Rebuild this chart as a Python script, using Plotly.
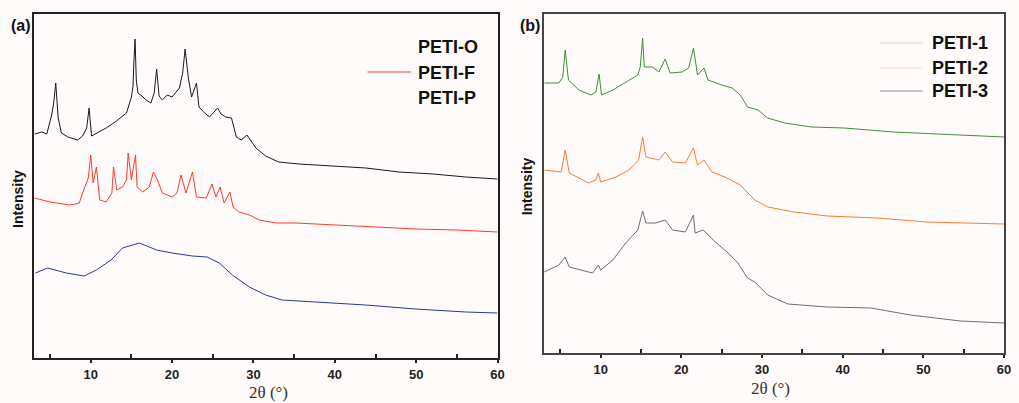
import plotly.graph_objects as go

# ---------------- Panel (a) data (2theta in degrees, intensity a.u.) ----------------
x_O = [3.1, 4.0, 4.6, 5.2, 5.45, 5.7, 6.0, 6.4, 7.2, 8.4, 9.0, 9.5, 9.8, 10.1, 11.0, 11.9, 13.0, 14.4, 15.0, 15.2, 15.3,
       15.45, 15.6, 15.8, 16.3, 16.8, 17.4, 17.8, 18.1, 18.4, 18.8, 19.4, 20.0, 20.9, 21.3, 21.6, 22.0, 22.4,
       23.0, 23.3, 24.0, 24.6, 25.6, 26.0, 26.6, 27.3, 27.9, 28.5, 29.2, 30.3, 31.5, 33.1, 35.6, 39.6, 43.8,
       47.9, 52.1, 56.1, 60.0]
y_O = [224, 226, 224, 243, 255, 275, 240, 225, 221, 218, 222, 230, 250, 222, 226, 230, 236, 245, 261, 272, 295,
       319, 278, 265, 262, 258, 255, 265, 289, 262, 258, 263, 261, 270, 285, 309, 280, 261,
       275, 251, 245, 241, 250, 244, 241, 240, 221, 218, 223, 210, 202, 196, 194, 192, 190,
       186, 184, 181, 179]

x_F = [3.1, 5.0, 7.4, 8.6, 9.0, 9.7, 10.0, 10.3, 10.7, 11.1, 11.9, 12.6, 12.8, 13.2, 13.9,
       14.4, 14.6, 15.0, 15.5, 15.7, 16.4, 17.2, 17.7, 18.2, 18.8, 20.0, 20.6, 21.1, 21.7,
       22.5, 23.0, 24.2, 24.9, 25.4, 25.9, 26.4, 27.1, 27.5, 28.2, 29.5, 30.7, 32.8, 35.2,
       40.0, 45.4, 50.0, 55.0, 60.0]
y_F = [160, 156, 153, 155, 165, 180, 203, 175, 191, 158, 156, 165, 191, 168, 171,
       178, 205, 178, 203, 171, 166, 171, 186, 178, 165, 161, 165, 183, 165,
       186, 161, 160, 174, 161, 171, 155, 166, 151, 146, 143, 138, 135, 135,
       133, 131, 129, 128, 126]

x_P = [3.2, 4.7, 7.0, 9.2, 10.7, 12.5, 13.9, 16.0, 18.1, 20.0, 22.5, 24.3, 25.8, 27.4,
       29.5, 31.5, 33.5, 37.6, 43.8, 49.9, 56.1, 60.0]
y_P = [85, 90, 85, 82, 88, 98, 110, 115, 108, 105, 102, 101, 95, 83,
       71, 63, 58, 56, 53, 49, 46, 45]

# ---------------- Panel (b) data ----------------
x_1 = [3.0, 4.8, 5.3, 5.6, 6.0, 7.3, 8.8, 9.4, 9.8, 10.1, 11.5, 13.5, 14.6, 14.9, 15.2, 15.4,
       16.4, 17.2, 18.0, 18.6, 20.1, 20.9, 21.5, 22.0, 22.8, 23.3, 25.0, 26.3, 27.3, 28.2,
       29.5, 30.7, 32.8, 36.1, 40.2, 46.3, 52.5, 60.0]
y_1 = [270, 270, 276, 303, 273, 263, 258, 261, 279, 258, 263, 273, 278, 286, 315, 286,
       286, 281, 294, 280, 281, 285, 305, 278, 285, 273, 268, 265, 258, 246,
       243, 235, 230, 226, 225, 221, 219, 216]

x_2 = [3.0, 5.1, 5.6, 6.1, 8.5, 9.4, 9.7, 10.0, 11.9, 13.5, 14.7, 15.2, 15.6, 17.2, 18.0,
       18.9, 20.5, 21.5, 22.0, 22.8, 23.8, 25.4, 27.3, 28.2, 29.1, 30.7, 34.0, 38.1, 44.3,
       50.4, 60.0]
y_2 = [183, 181, 203, 180, 170, 173, 180, 171, 176, 183, 193, 216, 196, 193, 201,
       191, 190, 205, 188, 193, 181, 176, 168, 160, 153, 146, 141, 137, 135,
       131, 129]

x_3 = [3.0, 4.8, 5.6, 6.1, 9.0, 9.7, 10.0, 11.5, 13.1, 14.6, 15.2, 15.6, 16.8, 18.0, 18.9,
       20.5, 21.5, 21.7, 22.7, 24.2, 25.8, 27.0, 28.2, 29.1, 30.7, 33.2, 38.1, 43.5, 48.4,
       54.6, 60.0]
y_3 = [81, 88, 96, 86, 80, 88, 83, 93, 110, 123, 142, 130, 130, 133, 123,
       121, 138, 120, 123, 111, 100, 90, 75, 71, 58, 49, 46, 45, 38,
       32, 30]

tick_vals = [10, 20, 30, 40, 50, 60]
tick_text = ["<b>10</b>", "<b>20</b>", "<b>30</b>", "<b>40</b>", "<b>50</b>", "<b>60</b>"]

W, H = 1019, 403
def px(v): return v / W
def py(v): return (H - v) / H

fig = go.Figure()
fig.add_trace(go.Scatter(x=x_O, y=y_O, mode="lines", line=dict(color="#1a1a1a", width=1), xaxis="x", yaxis="y", showlegend=False))
fig.add_trace(go.Scatter(x=x_F, y=y_F, mode="lines", line=dict(color="#ff3b2a", width=1), xaxis="x", yaxis="y", showlegend=False))
fig.add_trace(go.Scatter(x=x_P, y=y_P, mode="lines", line=dict(color="#2a3a8c", width=1), xaxis="x", yaxis="y", showlegend=False))
fig.add_trace(go.Scatter(x=x_1, y=y_1, mode="lines", line=dict(color="#3d8f3a", width=1), xaxis="x2", yaxis="y2", showlegend=False))
fig.add_trace(go.Scatter(x=x_2, y=y_2, mode="lines", line=dict(color="#ff7a30", width=1), xaxis="x2", yaxis="y2", showlegend=False))
fig.add_trace(go.Scatter(x=x_3, y=y_3, mode="lines", line=dict(color="#6e6e6e", width=1), xaxis="x2", yaxis="y2", showlegend=False))

axis_common = dict(range=[3, 60], tickvals=tick_vals, ticktext=tick_text, ticks="outside", ticklen=3,
                   tickwidth=1.5, tickcolor="#222", showline=True, mirror=True, linewidth=2,
                   showgrid=False, zeroline=False,
                   tickfont=dict(family="Arial, Liberation Sans", size=13, color="#222"),
                   minor=dict(tickvals=[5, 15, 25, 35, 45, 55], ticks="inside", ticklen=4, tickcolor="#222", tickwidth=1.5))

fig.update_layout(
    width=W, height=H, margin=dict(l=0, r=0, t=0, b=0),
    paper_bgcolor="#fffbfb", plot_bgcolor="#fffbfb",
    xaxis=dict(domain=[px(34), px(501)], anchor="y", linecolor="#222", **axis_common),
    yaxis=dict(domain=[py(358), py(14)], anchor="x", range=[0, 344], showticklabels=False, ticks="",
               showline=True, mirror=True, linewidth=2, linecolor="#222", showgrid=False, zeroline=False),
    xaxis2=dict(domain=[px(548), px(1011)], anchor="y2", linecolor="#444", **axis_common),
    yaxis2=dict(domain=[py(353), py(14)], anchor="x2", range=[0, 339], showticklabels=False, ticks="",
                showline=True, mirror=True, linewidth=2, linecolor="#444", showgrid=False, zeroline=False),
)

bold = dict(family="Arial, Liberation Sans", color="#111")
serif = dict(family="Times New Roman, Liberation Serif, serif", size=17, color="#333")
ann = []
ann.append(dict(text="<b>(a)</b>", x=px(21), y=py(25), font=dict(size=16, **bold)))
ann.append(dict(text="<b>(b)</b>", x=px(534), y=py(25), font=dict(size=16, **bold)))
ann.append(dict(text="<b>Intensity</b>", x=px(18), y=py(199), textangle=-90, font=dict(size=14, **bold)))
ann.append(dict(text="<b>Intensity</b>", x=px(531), y=py(186), textangle=-90, font=dict(size=14, **bold)))
ann.append(dict(text="2θ (°)", x=px(270), y=py(392), font=serif))
ann.append(dict(text="2θ (°)", x=px(776), y=py(388), font=serif))
for name, yy in [("PETI-O", 47), ("PETI-F", 73), ("PETI-P", 98)]:
    ann.append(dict(text="<b>" + name + "</b>", x=px(419), y=py(yy), xanchor="left", font=dict(size=18, **bold)))
for name, yy in [("PETI-1", 43), ("PETI-2", 68), ("PETI-3", 91)]:
    ann.append(dict(text="<b>" + name + "</b>", x=px(936), y=py(yy), xanchor="left", font=dict(size=18, **bold)))
for a in ann:
    a.setdefault("xanchor", "center")
    a.update(xref="paper", yref="paper", yanchor="middle", showarrow=False)
fig.update_layout(annotations=ann)

shapes = [
    dict(type="line", xref="paper", yref="paper", x0=px(370), x1=px(414), y0=py(72), y1=py(72), line=dict(color="#ff3b2a", width=1)),
    dict(type="line", xref="paper", yref="paper", x0=px(886), x1=px(929), y0=py(43), y1=py(43), line=dict(color="#c6dcc6", width=1)),
    dict(type="line", xref="paper", yref="paper", x0=px(886), x1=px(929), y0=py(68), y1=py(68), line=dict(color="#fbd9cf", width=1)),
    dict(type="line", xref="paper", yref="paper", x0=px(886), x1=px(929), y0=py(91), y1=py(91), line=dict(color="#8a8a8a", width=1)),
]
fig.update_layout(shapes=shapes)

fig.write_html("out.html")
